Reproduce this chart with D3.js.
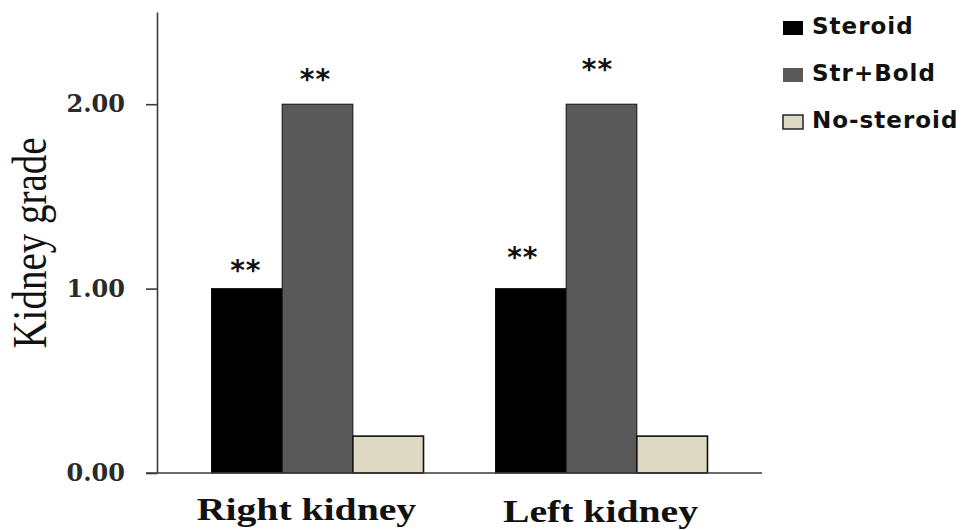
<!DOCTYPE html>
<html>
<head>
<meta charset="utf-8">
<script src="https://cdn.jsdelivr.net/npm/d3@7"></script>
<style>
  html, body { margin: 0; padding: 0; background: #ffffff; }
  svg { display: block; }
</style>
</head>
<body>
<div id="chart"></div>
<script>
// ---- Data ----
const categories = ["Right kidney", "Left kidney"];
const seriesNames = ["Steroid", "Str+Bold", "No-steroid"];
const steroid = [1.0, 1.0];
const strBold = [2.0, 2.0];
const noSteroid = [0.2, 0.2];
const sigSteroid = ["**", "**"];
const sigStrBold = ["**", "**"];
const sigNoSteroid = ["", ""];
const yTicks = [0, 1, 2];
const yMax = 2.5;
const yLabel = "Kidney grade";

// ---- Layout / style ----
const W = 961, H = 530;
const colors = ["#000000", "#595959", "#ddd9c3"];
const axisColor = "#3a3a3a";
const starLift = [[25, 31, 0], [38, 41, 0]];     // px above bar top, per category/series
const starShift = [[-1, -2, 0], [-8, -4, 0]];    // px horizontal nudge
const catLabelDx = [-11, -1];

const seriesVals = [steroid, strBold, noSteroid];
const seriesSig = [sigSteroid, sigStrBold, sigNoSteroid];

const svg = d3.select("#chart").append("svg")
  .attr("width", W).attr("height", H);

const y = d3.scaleLinear().domain([0, yMax]).range([473, 12]);
const x0 = d3.scaleBand().domain(categories).range([157, 762])
  .paddingInner(0.2535).paddingOuter(0.192);
const x1 = d3.scaleBand().domain(seriesNames).range([0, x0.bandwidth()]).padding(0);

const rows = categories.map((c, i) => ({
  cat: c, i,
  vals: seriesNames.map((s, j) => ({ s, j, v: seriesVals[j][i], sig: seriesSig[j][i] }))
}));

// bars
const g = svg.append("g");
const groups = g.selectAll("g.grp").data(rows).enter().append("g")
  .attr("class", "grp")
  .attr("transform", d => `translate(${x0(d.cat)},0)`);

groups.selectAll("rect").data(d => d.vals).enter().append("rect")
  .attr("x", d => x1(d.s))
  .attr("y", d => y(d.v))
  .attr("width", x1.bandwidth())
  .attr("height", d => y(0) - y(d.v))
  .attr("fill", d => colors[d.j])
  .attr("stroke", "#111")
  .attr("stroke-width", d => d.j === 2 ? 1.6 : 1);

// significance stars
groups.each(function (row) {
  d3.select(this).selectAll("text.sig").data(row.vals.filter(d => d.sig)).enter()
    .append("text").attr("class", "sig")
    .attr("x", d => x1(d.s) + x1.bandwidth() / 2 + starShift[row.i][d.j])
    .attr("y", d => y(d.v) - starLift[row.i][d.j] + 16)
    .attr("text-anchor", "middle")
    .attr("font-family", "DejaVu Sans").attr("font-weight", "bold")
    .attr("font-size", 28)
    .attr("letter-spacing", 1)
    .attr("fill", "#111")
    .text(d => d.sig);
});

// y axis
const yAxis = d3.axisLeft(y).tickValues(yTicks).tickFormat(d3.format(".2f"))
  .tickSize(11).tickSizeOuter(0).tickPadding(21);
const ya = svg.append("g").attr("transform", "translate(157,0)").call(yAxis);
ya.select(".domain").attr("stroke", axisColor).attr("stroke-width", 1.6);
ya.selectAll(".tick line").attr("stroke", axisColor).attr("stroke-width", 1.6);
ya.selectAll(".tick text")
  .attr("font-family", "DejaVu Serif").attr("font-weight", "bold")
  .attr("font-size", 24).attr("fill", "#2a2a2a");

// x axis line (extends to the y tick marks)
svg.append("line")
  .attr("x1", 157 - 11).attr("x2", x0.range()[1])
  .attr("y1", y(0)).attr("y2", y(0))
  .attr("stroke", axisColor).attr("stroke-width", 1.6);

// category labels
svg.selectAll("text.cat").data(categories).enter().append("text")
  .attr("class", "cat")
  .attr("transform", (d, i) => `translate(${x0(d) + x0.bandwidth() / 2 + catLabelDx[i]},${i === 0 ? 520 : 522}) scale(1.24,1)`)
  .attr("text-anchor", "middle")
  .attr("font-family", "Liberation Serif").attr("font-weight", "bold")
  .attr("font-size", 32).attr("fill", "#111")
  .text(d => d);

// y label
svg.append("text")
  .attr("transform", "translate(46,243) scale(1.25,1) rotate(-90)")
  .attr("text-anchor", "middle")
  .attr("font-family", "Liberation Serif")
  .attr("font-size", 39).attr("fill", "#111")
  .text(yLabel);

// legend
const leg = svg.append("g").selectAll("g").data(seriesNames).enter().append("g")
  .attr("transform", (d, i) => `translate(783,${34 + i * 47})`);
leg.append("rect")
  .attr("x", 0).attr("y", -13).attr("width", 20).attr("height", 14)
  .attr("fill", (d, i) => colors[i])
  .attr("stroke", (d, i) => i === 2 ? "#222" : colors[i])
  .attr("stroke-width", (d, i) => i === 2 ? 1.5 : 0);
leg.append("text")
  .attr("x", 29).attr("y", 0)
  .attr("font-family", "DejaVu Sans").attr("font-weight", "bold")
  .attr("font-size", 23).attr("fill", "#111")
  .attr("letter-spacing", 1)
  .text(d => d);
</script>
</body>
</html>
